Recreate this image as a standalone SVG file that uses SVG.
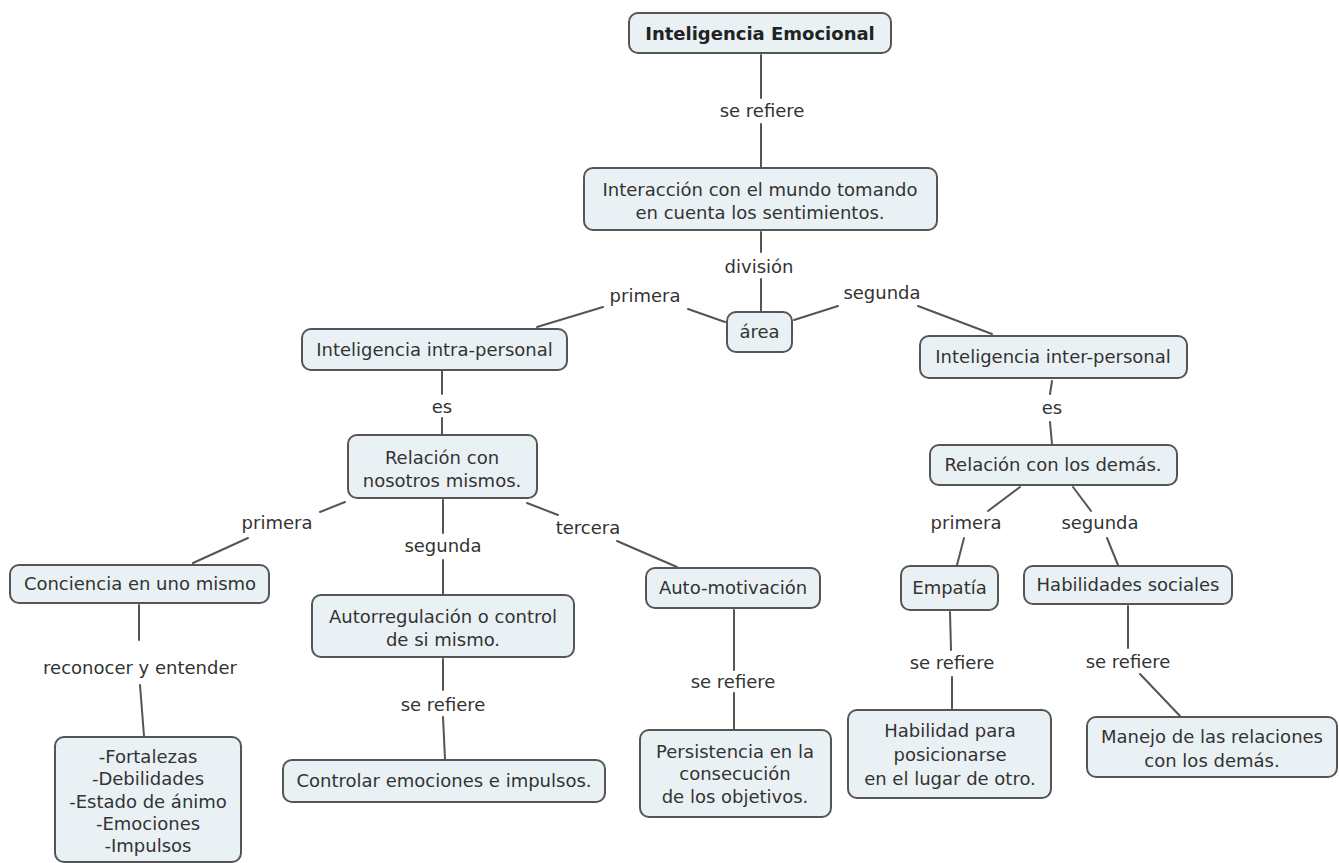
<svg xmlns="http://www.w3.org/2000/svg" width="1339" height="863" viewBox="0 0 1339 863">
<style>
.node rect{fill:#eaf1f4;stroke:#555;stroke-width:2}
text{font-family:"DejaVu Sans",Verdana,sans-serif;font-size:18px;fill:#333;text-anchor:middle}
.title{font-weight:bold;fill:#222}
#connectors line{stroke:#555;stroke-width:2;stroke-linecap:round}
</style>
<rect width="1339" height="863" fill="#fff"/>
<g id="connectors">
<line x1="761" y1="55" x2="761" y2="98"/><line x1="761" y1="124" x2="761" y2="167"/>
<line x1="761" y1="232" x2="761" y2="252"/><line x1="761" y1="279" x2="761" y2="311"/>
<line x1="725" y1="322" x2="688" y2="309"/><line x1="603" y1="307" x2="537" y2="327"/>
<line x1="794" y1="320" x2="838" y2="306"/><line x1="918" y1="306" x2="992" y2="334"/>
<line x1="442" y1="371" x2="442" y2="394"/><line x1="442" y1="418" x2="442" y2="434"/>
<line x1="1052" y1="381" x2="1050" y2="394"/><line x1="1050" y1="422" x2="1052" y2="444"/>
<line x1="345" y1="502" x2="320" y2="512"/><line x1="248" y1="538" x2="193" y2="563"/>
<line x1="443" y1="500" x2="443" y2="533"/><line x1="443" y1="560" x2="443" y2="594"/>
<line x1="527" y1="503" x2="558" y2="515"/><line x1="617" y1="541" x2="677" y2="567"/>
<line x1="1020" y1="487" x2="988" y2="511"/><line x1="964" y1="538" x2="957" y2="565"/>
<line x1="1073" y1="487" x2="1091" y2="511"/><line x1="1107" y1="538" x2="1118" y2="565"/>
<line x1="139" y1="605" x2="139" y2="640"/><line x1="140" y1="685" x2="144" y2="736"/>
<line x1="443" y1="659" x2="443" y2="690"/><line x1="443" y1="717" x2="445" y2="759"/>
<line x1="734" y1="610" x2="734" y2="670"/><line x1="734" y1="693" x2="734" y2="729"/>
<line x1="950" y1="612" x2="951" y2="650"/><line x1="952" y1="677" x2="952" y2="709"/>
<line x1="1128" y1="606" x2="1128" y2="648"/><line x1="1140" y1="674" x2="1180" y2="716"/>
<text x="762" y="117">se refiere</text>
<text x="759" y="273">división</text>
<text x="645" y="302">primera</text>
<text x="882" y="299">segunda</text>
<text x="442" y="413">es</text>
<text x="1052" y="414">es</text>
<text x="277" y="529">primera</text>
<text x="443" y="552">segunda</text>
<text x="588" y="534">tercera</text>
<text x="966" y="529">primera</text>
<text x="1100" y="529">segunda</text>
<text x="140" y="674">reconocer y entender</text>
<text x="443" y="711">se refiere</text>
<text x="733" y="688">se refiere</text>
<text x="952" y="669">se refiere</text>
<text x="1128" y="668">se refiere</text>
</g>
<g id="n1" class="node"><rect x="629" y="13" width="262" height="40" rx="9"/><text class="title" x="760" y="40">Inteligencia Emocional</text></g>
<g id="n2" class="node"><rect x="584" y="168" width="353" height="62" rx="9"/><text x="760" y="196">Interacción con el mundo tomando</text><text x="760" y="219">en cuenta los sentimientos.</text></g>
<g id="n3" class="node"><rect x="727" y="312" width="65" height="40" rx="9"/><text x="759.5" y="338">área</text></g>
<g id="n4" class="node"><rect x="302" y="329" width="265" height="41" rx="9"/><text x="434.5" y="356">Inteligencia intra-personal</text></g>
<g id="n5" class="node"><rect x="920" y="336" width="267" height="42" rx="9"/><text x="1053" y="363">Inteligencia inter-personal</text></g>
<g id="n6" class="node"><rect x="348" y="435" width="189" height="63" rx="9"/><text x="442" y="464">Relación con</text><text x="442" y="487">nosotros mismos.</text></g>
<g id="n7" class="node"><rect x="930" y="445" width="247" height="40" rx="9"/><text x="1053" y="471">Relación con los demás.</text></g>
<g id="n8" class="node"><rect x="10" y="565" width="259" height="38" rx="9"/><text x="140" y="590">Conciencia en uno mismo</text></g>
<g id="n9" class="node"><rect x="312" y="595" width="262" height="62" rx="9"/><text x="443" y="623">Autorregulación o control</text><text x="443" y="646">de si mismo.</text></g>
<g id="n10" class="node"><rect x="646" y="568" width="174" height="40" rx="9"/><text x="733" y="594">Auto-motivación</text></g>
<g id="n11" class="node"><rect x="901" y="566" width="97" height="44" rx="9"/><text x="949.5" y="594">Empatía</text></g>
<g id="n12" class="node"><rect x="1024" y="566" width="208" height="38" rx="9"/><text x="1128" y="591">Habilidades sociales</text></g>
<g id="n13" class="node"><rect x="55" y="737" width="186" height="125" rx="9"/><text x="148" y="763">-Fortalezas</text><text x="148" y="785">-Debilidades</text><text x="148" y="808">-Estado de ánimo</text><text x="148" y="830">-Emociones</text><text x="148" y="852">-Impulsos</text></g>
<g id="n14" class="node"><rect x="283" y="760" width="322" height="42" rx="9"/><text x="444" y="787">Controlar emociones e impulsos.</text></g>
<g id="n15" class="node"><rect x="640" y="730" width="191" height="87" rx="9"/><text x="735" y="758">Persistencia en la</text><text x="735" y="780">consecución</text><text x="735" y="803">de los objetivos.</text></g>
<g id="n16" class="node"><rect x="848" y="710" width="203" height="88" rx="9"/><text x="950" y="737">Habilidad para</text><text x="950" y="761">posicionarse</text><text x="950" y="785">en el lugar de otro.</text></g>
<g id="n17" class="node"><rect x="1087" y="717" width="250" height="60" rx="9"/><text x="1212" y="743">Manejo de las relaciones</text><text x="1212" y="767">con los demás.</text></g>
</svg>
